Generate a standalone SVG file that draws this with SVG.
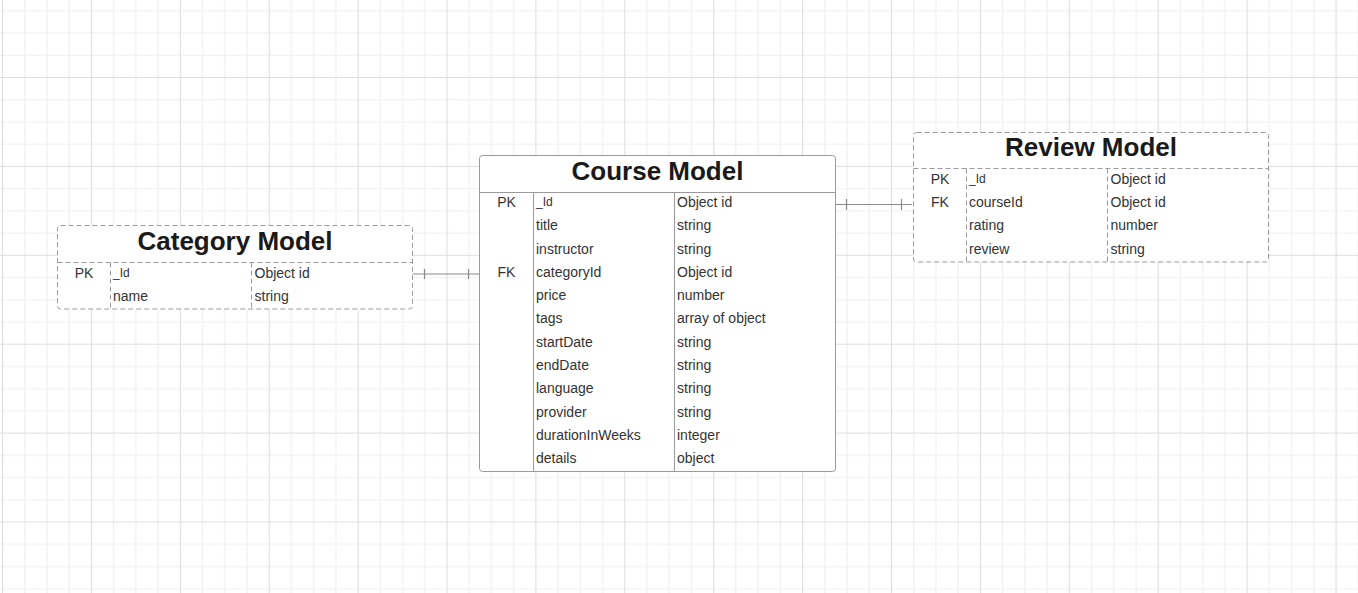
<svg xmlns="http://www.w3.org/2000/svg" width="1358" height="593" viewBox="0 0 1358 593">
<defs>
<pattern id="grid" patternUnits="userSpaceOnUse" x="2" y="77" width="88.9" height="88.9">
<g stroke="#efefef" stroke-width="1.2" fill="none">
<line x1="22.725" y1="0" x2="22.725" y2="88.9"/>
<line x1="44.95" y1="0" x2="44.95" y2="88.9"/>
<line x1="67.175" y1="0" x2="67.175" y2="88.9"/>
<line x1="0" y1="22.725" x2="88.9" y2="22.725"/>
<line x1="0" y1="44.95" x2="88.9" y2="44.95"/>
<line x1="0" y1="67.175" x2="88.9" y2="67.175"/>
</g>
<g stroke="#dedede" stroke-width="1.2" fill="none">
<line x1="0.5" y1="0" x2="0.5" y2="88.9"/>
<line x1="0" y1="0.5" x2="88.9" y2="0.5"/>
</g>
</pattern>
</defs>
<style>
.title{font-family:"Liberation Sans",Arial,sans-serif;font-size:26px;font-weight:bold;fill:#1a1a1a;text-anchor:middle}
.t{font-family:"Liberation Sans",Arial,sans-serif;font-size:14px;fill:#333}
.s{font-size:12px}
.k{text-anchor:middle}
.box{fill:#fff;stroke:#9a9a9a;stroke-width:1}
.dbox{fill:#fff;stroke:#9a9a9a;stroke-width:1;stroke-dasharray:5 3}
.ln{stroke:#9a9a9a;stroke-width:1;fill:none}
.dln{stroke:#9a9a9a;stroke-width:1;fill:none;stroke-dasharray:5 3}
.conn{stroke:#8a8a8a;stroke-width:1.2;fill:none}
</style>
<rect width="1358" height="593" fill="#ffffff"/>
<rect width="1358" height="593" fill="url(#grid)"/>

<g id="connectors">
<line class="conn" x1="413" y1="274" x2="479" y2="274"/>
<line class="conn" x1="424.5" y1="269" x2="424.5" y2="279"/>
<line class="conn" x1="468.5" y1="269" x2="468.5" y2="279"/>
<line class="conn" x1="835" y1="204.5" x2="912" y2="204.5"/>
<line class="conn" x1="846.5" y1="199" x2="846.5" y2="210"/>
<line class="conn" x1="901.5" y1="199" x2="901.5" y2="210"/>
</g>

<g id="category-model">
<rect class="dbox" x="57.5" y="225.5" width="355" height="83.5" rx="3"/>
<line class="dln" x1="57.5" y1="262.5" x2="412.5" y2="262.5"/>
<line class="dln" x1="110.5" y1="262.5" x2="110.5" y2="309"/>
<line class="dln" x1="251.5" y1="262.5" x2="251.5" y2="309"/>
<text class="title" x="235" y="249.5">Category Model</text>
<text class="t k" x="84" y="277.5">PK</text>
<text class="t s" x="113" y="276.5">_Id</text>
<text class="t" x="254.5" y="277.5">Object id</text>
<text class="t" x="113" y="300.5">name</text>
<text class="t" x="254.5" y="300.5">string</text>
</g>

<g id="course-model">
<rect class="box" x="479.5" y="155.5" width="356" height="316" rx="3"/>
<line class="ln" x1="479.5" y1="192.5" x2="835.5" y2="192.5"/>
<line class="ln" x1="533.5" y1="192.5" x2="533.5" y2="471.5"/>
<line class="ln" x1="674.5" y1="192.5" x2="674.5" y2="471.5"/>
<text class="title" x="657.5" y="180">Course Model</text>
<text class="t k" x="506.5" y="207">PK</text>
<text class="t k" x="506.5" y="276.8">FK</text>
<text class="t s" x="536" y="206">_Id</text>
<text class="t" x="677" y="207">Object id</text>
<text class="t" x="536" y="230.3">title</text>
<text class="t" x="677" y="230.3">string</text>
<text class="t" x="536" y="253.5">instructor</text>
<text class="t" x="677" y="253.5">string</text>
<text class="t" x="536" y="276.8">categoryId</text>
<text class="t" x="677" y="276.8">Object id</text>
<text class="t" x="536" y="300.1">price</text>
<text class="t" x="677" y="300.1">number</text>
<text class="t" x="536" y="323.4">tags</text>
<text class="t" x="677" y="323.4">array of object</text>
<text class="t" x="536" y="346.6">startDate</text>
<text class="t" x="677" y="346.6">string</text>
<text class="t" x="536" y="369.9">endDate</text>
<text class="t" x="677" y="369.9">string</text>
<text class="t" x="536" y="393.2">language</text>
<text class="t" x="677" y="393.2">string</text>
<text class="t" x="536" y="416.5">provider</text>
<text class="t" x="677" y="416.5">string</text>
<text class="t" x="536" y="439.7">durationInWeeks</text>
<text class="t" x="677" y="439.7">integer</text>
<text class="t" x="536" y="463">details</text>
<text class="t" x="677" y="463">object</text>
</g>

<g id="review-model">
<rect class="dbox" x="913.5" y="132.5" width="355" height="129.5" rx="3"/>
<line class="dln" x1="913.5" y1="168.5" x2="1268.5" y2="168.5"/>
<line class="dln" x1="966.5" y1="168.5" x2="966.5" y2="262"/>
<line class="dln" x1="1107.5" y1="168.5" x2="1107.5" y2="262"/>
<text class="title" x="1091" y="156">Review Model</text>
<text class="t k" x="940" y="183.5">PK</text>
<text class="t k" x="940" y="206.8">FK</text>
<text class="t s" x="969" y="182.5">_Id</text>
<text class="t" x="1110.5" y="183.5">Object id</text>
<text class="t" x="969" y="206.8">courseId</text>
<text class="t" x="1110.5" y="206.8">Object id</text>
<text class="t" x="969" y="230.2">rating</text>
<text class="t" x="1110.5" y="230.2">number</text>
<text class="t" x="969" y="253.5">review</text>
<text class="t" x="1110.5" y="253.5">string</text>
</g>
</svg>
